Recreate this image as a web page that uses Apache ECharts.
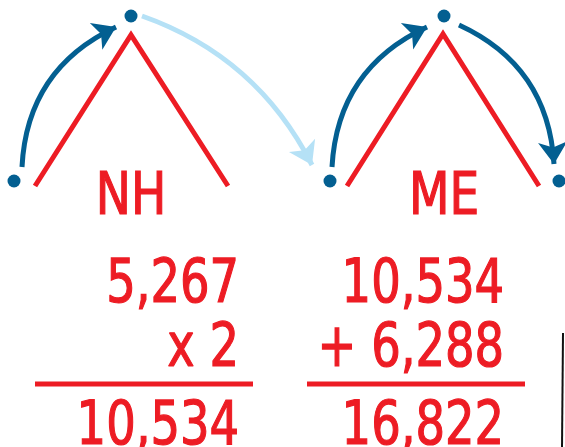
<!DOCTYPE html>
<html><head><meta charset="utf-8">
<script src="https://cdn.jsdelivr.net/npm/echarts@6/dist/echarts.min.js"></script>
<style>html,body{margin:0;padding:0;background:#fff}#c{width:565px;height:447px}</style>
</head><body><div id="c"></div>
<script>
// Points of the diagram (drawing units = pixels of the 565x447 frame)
const dots = [[14,181],[131,16],[330,181],[444,16],[559,181]];
const chevronNH = [[35,186],[131,35],[228,186]];
const chevronME = [[347,186],[443,34],[539,186]];
const darkArrows = [
  [[22,167],[116,27]],
  [[332,167],[427,27]],
  [[459,25],[554,164]]
];
const darkBend = [0.3, 0.3, 0.3];
const lightArrows = [[[142,16],[312,165]]];
const lightBend = [0.2];
const words = ['NH','ME'];
const wordX = [131,444];
const wordY = 199;
const leftColumn = ['5,267','x 2','10,534'];
const rightColumn = ['10,534','+ 6,288','16,822'];
const rowY = [286, 350, 428];
const columnRight = [239, 504];
const rules = [[[35,384],[253,384]],[[307,384],[525,384]]];
const edgeMark = [[563,333],[562,447]];

const RED = '#ed1c24', BLUE = '#035f91', LIGHT = '#b5e1f6';
const FONT = '"DejaVu Sans Condensed","DejaVu Sans",sans-serif';

const textItems = [];
words.forEach((w,i)=>textItems.push({t:w, x:wordX[i], y:wordY, size:58, sx:0.9, align:'center'}));
leftColumn.forEach((w,i)=>textItems.push({t:w, x:columnRight[0], y:rowY[i], size:60, sx:0.86, align:'right'}));
rightColumn.forEach((w,i)=>textItems.push({t:w, x:columnRight[1], y:rowY[i], size:60, sx:0.86, align:'right'}));

const option = {
  animation:false,
  backgroundColor:'#ffffff',
  grid:{left:0,right:0,top:0,bottom:0},
  xAxis:{type:'value',min:0,max:565,show:false},
  yAxis:{type:'value',min:0,max:447,inverse:true,show:false},
  series:[
    {type:'line',data:chevronNH,showSymbol:false,lineStyle:{color:RED,width:5,cap:'butt',join:'miter'},z:2},
    {type:'line',data:chevronME,showSymbol:false,lineStyle:{color:RED,width:5,cap:'butt',join:'miter'},z:2},
    {type:'line',data:rules[0],showSymbol:false,lineStyle:{color:RED,width:5,cap:'butt'},z:2},
    {type:'line',data:rules[1],showSymbol:false,lineStyle:{color:RED,width:5,cap:'butt'},z:2},
    {type:'line',data:edgeMark,showSymbol:false,lineStyle:{color:'#111',width:2},z:2},
    {type:'lines',coordinateSystem:'cartesian2d',symbol:['none','arrow'],symbolSize:[0,22],
      data:darkArrows.map((c,i)=>({coords:c,lineStyle:{curveness:darkBend[i]}})),
      lineStyle:{color:BLUE,width:5,opacity:1},itemStyle:{opacity:1},z:3},
    {type:'lines',coordinateSystem:'cartesian2d',symbol:['none','arrow'],symbolSize:[0,22],
      data:lightArrows.map((c,i)=>({coords:c,lineStyle:{curveness:lightBend[i]}})),
      lineStyle:{color:LIGHT,width:5,opacity:1},itemStyle:{opacity:1},z:3},
    {type:'scatter',data:dots,symbolSize:13,itemStyle:{color:BLUE,opacity:1},z:4},
    {type:'custom',coordinateSystem:'cartesian2d',z:5,
      data:textItems.map(d=>[d.x,d.y]),
      renderItem:(params, api)=>{
        const d = textItems[params.dataIndex];
        const p = api.coord([api.value(0), api.value(1)]);
        return {type:'text', x:p[0], y:p[1], scaleX:d.sx,
          style:{text:d.t, fill:RED, stroke:RED, lineWidth:1.2, fontSize:d.size, fontFamily:FONT, align:d.align, verticalAlign:'middle', opacity:1}};
      }}
  ]
};
const chart = echarts.init(document.getElementById('c'),null,{renderer:'canvas'});
chart.setOption(option);
</script></body></html>
